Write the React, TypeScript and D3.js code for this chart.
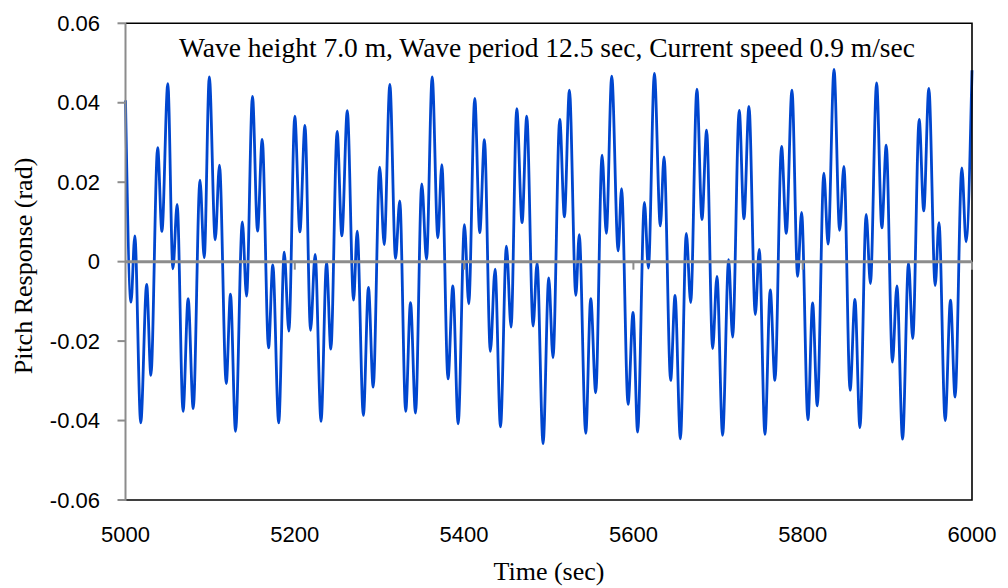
import React from "react";
import * as d3 from "d3";

// Pitch time history, sampled at the turning points of the response (sec, rad)
const timeSec: number[] = [
  5000, 5006.5, 5011, 5018, 5025, 5030, 5038, 5043, 5050, 5056, 5061, 5068, 5074, 5080,
  5088, 5093, 5099, 5106, 5111, 5119, 5124, 5130, 5138, 5143, 5150, 5156, 5161.5, 5169,
  5174, 5181, 5187.5, 5193, 5200, 5206, 5212, 5218.6, 5224, 5231, 5237.5, 5242.6, 5250,
  5255.6, 5262, 5269.4, 5273.7, 5281, 5287, 5292.6, 5300.3, 5305.6, 5312.3, 5319, 5324,
  5331, 5336.7, 5342.6, 5350, 5355.6, 5362.3, 5369, 5373.7, 5381, 5386.7, 5393, 5400.4,
  5405.5, 5412.6, 5418.5, 5424, 5431, 5436.6, 5443, 5450, 5455.5, 5462.2, 5468.5, 5474,
  5481.5, 5486.2, 5493.3, 5500, 5505, 5513, 5518.5, 5524.4, 5532, 5536, 5543.7, 5549.6,
  5555.5, 5563, 5568, 5574.4, 5582, 5586, 5593.7, 5599.6, 5605, 5613, 5617.7, 5624.8,
  5631.8, 5636.2, 5644, 5649.2, 5655.5, 5662.5, 5667.7, 5675, 5681, 5686.5, 5693.6,
  5698.7, 5705.4, 5712.5, 5717.2, 5725, 5730.6, 5736.5, 5744, 5748.7, 5755.4, 5761.7,
  5767.2, 5775, 5780.6, 5787.3, 5794, 5798.7, 5806.2, 5811.7, 5817.2, 5825, 5830, 5837,
  5843.6, 5848.7, 5856, 5861.7, 5867.6, 5875, 5880, 5887.3, 5893.5, 5898.7, 5906, 5911.3,
  5918, 5925, 5930, 5937.6, 5943, 5949, 5956.5, 5961, 5968.3, 5974.6, 5980, 5988, 5993,
  6000,
];

const pitchRad: number[] = [
  0.0406, -0.0102, 0.0065, -0.0406, -0.0057, -0.0286, 0.0287, 0.0076, 0.0448, -0.0018,
  0.0144, -0.0377, -0.0093, -0.037, 0.0205, 0.001, 0.0465, 0.0055, 0.0243, -0.0307,
  -0.0082, -0.0427, 0.01, -0.0087, 0.0416, 0.0077, 0.0308, -0.0217, -0.0008, -0.0406,
  0.0024, -0.0175, 0.0366, 0.0075, 0.0343, -0.0173, 0.0018, -0.0402, -0.0003, -0.022,
  0.0328, 0.0065, 0.038, -0.0097, 0.0077, -0.0387, -0.0065, -0.0316, 0.0238, 0.0043,
  0.0446, 0.0008, 0.0153, -0.0377, -0.0103, -0.0381, 0.0196, 0.0006, 0.0465, 0.006,
  0.0244, -0.0295, -0.0061, -0.0408, 0.0093, -0.0106, 0.0411, 0.0073, 0.0307, -0.0226,
  -0.0019, -0.0416, 0.0039, -0.0165, 0.0385, 0.0098, 0.0366, -0.0162, -0.0003, -0.0458,
  -0.0041, -0.0242, 0.0358, 0.0113, 0.0432, -0.0085, 0.0068, -0.0432, -0.0093, -0.033,
  0.0268, 0.0071, 0.0467, 0.0027, 0.0184, -0.0359, -0.0128, -0.0429, 0.0149, -0.0016,
  0.0474, 0.009, 0.0264, -0.0299, -0.0085, -0.0446, 0.0071, -0.0103, 0.0434, 0.0106,
  0.0331, -0.0219, -0.0037, -0.0437, 0.0005, -0.019, 0.0381, 0.0108, 0.0391, -0.0133,
  0.0031, -0.0435, -0.0071, -0.0299, 0.029, 0.0071, 0.0432, -0.0037, 0.0124, -0.0398,
  -0.0104, -0.0363, 0.0223, 0.0044, 0.0484, 0.0079, 0.024, -0.0324, -0.0095, -0.0418,
  0.0119, -0.0055, 0.045, 0.0085, 0.0293, -0.0253, -0.0061, -0.0447, -0.0003, -0.0194,
  0.0358, 0.0128, 0.0436, -0.006, 0.0098, -0.04, -0.0097, -0.0341, 0.0236, 0.005, 0.0482,
];

const xTickValues: number[] = [5000, 5200, 5400, 5600, 5800, 6000];
const yTickValues: number[] = [-0.06, -0.04, -0.02, 0, 0.02, 0.04, 0.06];

const titleText = "Wave height 7.0 m, Wave period 12.5 sec, Current speed 0.9 m/sec";
const xTitle = "Time (sec)";
const yTitle = "Pitch Response (rad)";

const W = 1008;
const H = 588;
const plot = { left: 125.5, right: 972, top: 23.3, bottom: 500 };

export default function App() {
  const x = d3.scaleLinear().domain([5000, 6000]).range([plot.left, plot.right]);
  const y = d3.scaleLinear().domain([-0.06, 0.06]).range([plot.bottom, plot.top]);

  const points: [number, number][] = timeSec.map((t, i) => [t, pitchRad[i]]);
  const line = d3
    .line<[number, number]>()
    .x((d) => x(d[0]))
    .y((d) => y(d[1]))
    .curve(d3.curveMonotoneX);

  const sans = "'Liberation Sans', Arial, sans-serif";
  const serif = "'Liberation Serif', 'Times New Roman', serif";
  const axisGray = "#8c8c8c";

  return (
    <svg
      width={W}
      height={H}
      style={{ position: "absolute", left: 0, top: 0, background: "#fff" }}
    >
      <rect x={0} y={0} width={W} height={H} fill="#fff" />

      {/* response curve */}
      <path
        d={line(points) ?? ""}
        fill="none"
        stroke="#0046cf"
        strokeWidth={2.8}
        strokeLinejoin="round"
      />

      {/* plot frame: top, right and bottom */}
      <path
        d={`M${plot.left},${plot.top}H${plot.right}V${plot.bottom}H${plot.left}`}
        fill="none"
        stroke="#000"
        strokeWidth={1.6}
      />

      {/* horizontal axis along zero with its ticks */}
      <line
        x1={plot.left}
        x2={plot.right}
        y1={y(0)}
        y2={y(0)}
        stroke={axisGray}
        strokeWidth={3}
      />
      {xTickValues.slice(1).map((t) => (
        <line
          key={`xt${t}`}
          x1={x(t)}
          x2={x(t)}
          y1={y(0)}
          y2={y(0) + 8}
          stroke={axisGray}
          strokeWidth={2}
        />
      ))}

      {/* vertical axis with ticks */}
      <line
        x1={plot.left}
        x2={plot.left}
        y1={plot.top}
        y2={plot.bottom + 1}
        stroke={axisGray}
        strokeWidth={2}
      />
      {yTickValues.map((v) => (
        <line
          key={`yt${v}`}
          x1={plot.left - 8}
          x2={plot.left}
          y1={y(v)}
          y2={y(v)}
          stroke={axisGray}
          strokeWidth={2}
        />
      ))}

      {/* tick labels */}
      {yTickValues.map((v) => (
        <text
          key={`yl${v}`}
          x={100}
          y={y(v)}
          textAnchor="end"
          dominantBaseline="central"
          fontFamily={sans}
          fontSize={22}
          fill="#000"
        >
          {v === 0 ? "0" : v.toFixed(2)}
        </text>
      ))}
      {xTickValues.map((t) => (
        <text
          key={`xl${t}`}
          x={x(t)}
          y={542}
          textAnchor="middle"
          fontFamily={sans}
          fontSize={22}
          fill="#000"
        >
          {t}
        </text>
      ))}

      {/* titles */}
      <text
        x={(181 + 913) / 2}
        y={57}
        textAnchor="middle"
        fontFamily={serif}
        fontSize={27.5}
        fill="#000"
      >
        {titleText}
      </text>
      <text
        x={549}
        y={580}
        textAnchor="middle"
        fontFamily={serif}
        fontSize={26}
        fill="#000"
      >
        {xTitle}
      </text>
      <text
        transform={`translate(32,266) rotate(-90)`}
        textAnchor="middle"
        fontFamily={serif}
        fontSize={26}
        fill="#000"
      >
        {yTitle}
      </text>
    </svg>
  );
}
